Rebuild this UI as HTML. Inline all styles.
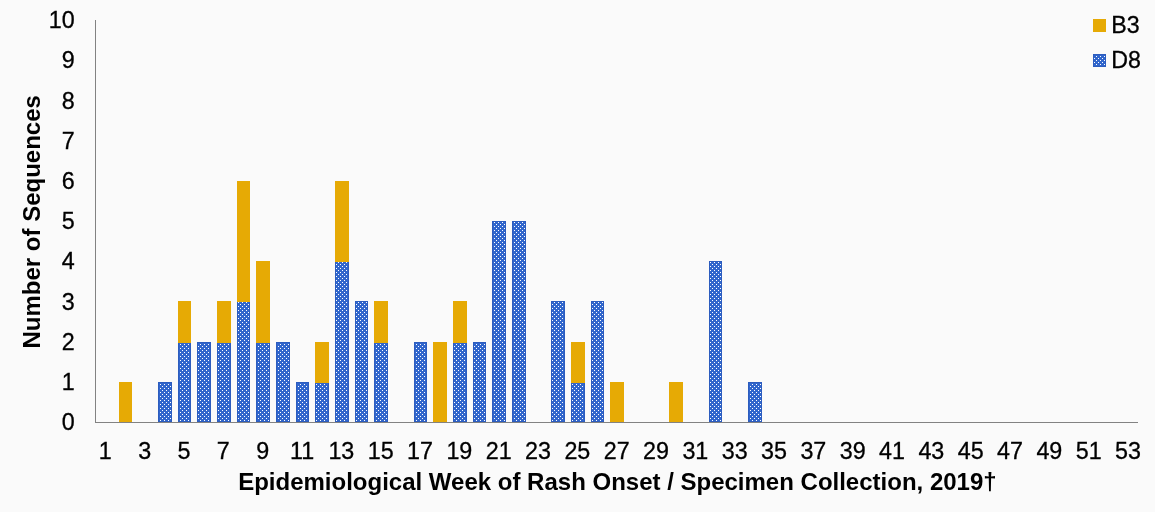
<!DOCTYPE html>
<html><head><meta charset="utf-8"><title>Chart</title>
<style>html,body{margin:0;padding:0;background:#fafafa;overflow:hidden}svg{display:block}text{font-family:"Liberation Sans",Arial,sans-serif;fill:#000}.r{stroke:#000;stroke-width:0.3px}</style></head><body>
<svg width="1155" height="512" viewBox="0 0 1155 512">
<defs><pattern id="dots" x="0" y="0" width="4" height="4" patternUnits="userSpaceOnUse"><rect width="4" height="4" fill="#3166cc"/><rect x="0" y="0" width="1" height="1" fill="#fff"/><rect x="2" y="2" width="1" height="1" fill="#fff"/></pattern></defs>
<rect width="1155" height="512" fill="#fafafa"/>
<rect x="119" y="382" width="13" height="40" fill="#e6aa05"/>
<rect x="158" y="382" width="14" height="40" fill="url(#dots)"/>
<rect x="158.5" y="382.5" width="13" height="39" fill="none" stroke="#2c5cbe" stroke-width="1"/>
<rect x="178" y="342" width="13" height="80" fill="url(#dots)"/>
<rect x="178.5" y="342.5" width="12" height="79" fill="none" stroke="#2c5cbe" stroke-width="1"/>
<rect x="178" y="301" width="13" height="42" fill="#e6aa05"/>
<rect x="197" y="342" width="14" height="80" fill="url(#dots)"/>
<rect x="197.5" y="342.5" width="13" height="79" fill="none" stroke="#2c5cbe" stroke-width="1"/>
<rect x="217" y="342" width="14" height="80" fill="url(#dots)"/>
<rect x="217.5" y="342.5" width="13" height="79" fill="none" stroke="#2c5cbe" stroke-width="1"/>
<rect x="217" y="301" width="14" height="42" fill="#e6aa05"/>
<rect x="237" y="301" width="13" height="121" fill="url(#dots)"/>
<rect x="237.5" y="301.5" width="12" height="120" fill="none" stroke="#2c5cbe" stroke-width="1"/>
<rect x="237" y="181" width="13" height="121" fill="#e6aa05"/>
<rect x="256" y="342" width="14" height="80" fill="url(#dots)"/>
<rect x="256.5" y="342.5" width="13" height="79" fill="none" stroke="#2c5cbe" stroke-width="1"/>
<rect x="256" y="261" width="14" height="82" fill="#e6aa05"/>
<rect x="276" y="342" width="14" height="80" fill="url(#dots)"/>
<rect x="276.5" y="342.5" width="13" height="79" fill="none" stroke="#2c5cbe" stroke-width="1"/>
<rect x="296" y="382" width="13" height="40" fill="url(#dots)"/>
<rect x="296.5" y="382.5" width="12" height="39" fill="none" stroke="#2c5cbe" stroke-width="1"/>
<rect x="315" y="382" width="14" height="40" fill="url(#dots)"/>
<rect x="315.5" y="382.5" width="13" height="39" fill="none" stroke="#2c5cbe" stroke-width="1"/>
<rect x="315" y="342" width="14" height="41" fill="#e6aa05"/>
<rect x="335" y="261" width="14" height="161" fill="url(#dots)"/>
<rect x="335.5" y="261.5" width="13" height="160" fill="none" stroke="#2c5cbe" stroke-width="1"/>
<rect x="335" y="181" width="14" height="81" fill="#e6aa05"/>
<rect x="355" y="301" width="13" height="121" fill="url(#dots)"/>
<rect x="355.5" y="301.5" width="12" height="120" fill="none" stroke="#2c5cbe" stroke-width="1"/>
<rect x="374" y="342" width="14" height="80" fill="url(#dots)"/>
<rect x="374.5" y="342.5" width="13" height="79" fill="none" stroke="#2c5cbe" stroke-width="1"/>
<rect x="374" y="301" width="14" height="42" fill="#e6aa05"/>
<rect x="414" y="342" width="13" height="80" fill="url(#dots)"/>
<rect x="414.5" y="342.5" width="12" height="79" fill="none" stroke="#2c5cbe" stroke-width="1"/>
<rect x="433" y="342" width="14" height="80" fill="#e6aa05"/>
<rect x="453" y="342" width="14" height="80" fill="url(#dots)"/>
<rect x="453.5" y="342.5" width="13" height="79" fill="none" stroke="#2c5cbe" stroke-width="1"/>
<rect x="453" y="301" width="14" height="42" fill="#e6aa05"/>
<rect x="473" y="342" width="13" height="80" fill="url(#dots)"/>
<rect x="473.5" y="342.5" width="12" height="79" fill="none" stroke="#2c5cbe" stroke-width="1"/>
<rect x="492" y="221" width="14" height="201" fill="url(#dots)"/>
<rect x="492.5" y="221.5" width="13" height="200" fill="none" stroke="#2c5cbe" stroke-width="1"/>
<rect x="512" y="221" width="14" height="201" fill="url(#dots)"/>
<rect x="512.5" y="221.5" width="13" height="200" fill="none" stroke="#2c5cbe" stroke-width="1"/>
<rect x="551" y="301" width="14" height="121" fill="url(#dots)"/>
<rect x="551.5" y="301.5" width="13" height="120" fill="none" stroke="#2c5cbe" stroke-width="1"/>
<rect x="571" y="382" width="14" height="40" fill="url(#dots)"/>
<rect x="571.5" y="382.5" width="13" height="39" fill="none" stroke="#2c5cbe" stroke-width="1"/>
<rect x="571" y="342" width="14" height="41" fill="#e6aa05"/>
<rect x="591" y="301" width="13" height="121" fill="url(#dots)"/>
<rect x="591.5" y="301.5" width="12" height="120" fill="none" stroke="#2c5cbe" stroke-width="1"/>
<rect x="610" y="382" width="14" height="40" fill="#e6aa05"/>
<rect x="669" y="382" width="14" height="40" fill="#e6aa05"/>
<rect x="709" y="261" width="13" height="161" fill="url(#dots)"/>
<rect x="709.5" y="261.5" width="12" height="160" fill="none" stroke="#2c5cbe" stroke-width="1"/>
<rect x="748" y="382" width="14" height="40" fill="url(#dots)"/>
<rect x="748.5" y="382.5" width="13" height="39" fill="none" stroke="#2c5cbe" stroke-width="1"/>
<rect x="95" y="20" width="1" height="403" fill="#828282"/>
<rect x="95" y="422" width="1043" height="1" fill="#828282"/>
<text x="74.6" y="430.20" font-size="23.3" text-anchor="end" class="r">0</text>
<text x="74.6" y="390.00" font-size="23.3" text-anchor="end" class="r">1</text>
<text x="74.6" y="349.80" font-size="23.3" text-anchor="end" class="r">2</text>
<text x="74.6" y="309.60" font-size="23.3" text-anchor="end" class="r">3</text>
<text x="74.6" y="269.40" font-size="23.3" text-anchor="end" class="r">4</text>
<text x="74.6" y="229.20" font-size="23.3" text-anchor="end" class="r">5</text>
<text x="74.6" y="189.00" font-size="23.3" text-anchor="end" class="r">6</text>
<text x="74.6" y="148.80" font-size="23.3" text-anchor="end" class="r">7</text>
<text x="74.6" y="108.60" font-size="23.3" text-anchor="end" class="r">8</text>
<text x="74.6" y="68.40" font-size="23.3" text-anchor="end" class="r">9</text>
<text x="74.6" y="28.20" font-size="23.3" text-anchor="end" class="r">10</text>
<text x="105.33" y="458.6" font-size="23.3" text-anchor="middle" class="r">1</text>
<text x="144.67" y="458.6" font-size="23.3" text-anchor="middle" class="r">3</text>
<text x="184.00" y="458.6" font-size="23.3" text-anchor="middle" class="r">5</text>
<text x="223.34" y="458.6" font-size="23.3" text-anchor="middle" class="r">7</text>
<text x="262.67" y="458.6" font-size="23.3" text-anchor="middle" class="r">9</text>
<text x="302.00" y="458.6" font-size="23.3" text-anchor="middle" class="r">11</text>
<text x="341.34" y="458.6" font-size="23.3" text-anchor="middle" class="r">13</text>
<text x="380.67" y="458.6" font-size="23.3" text-anchor="middle" class="r">15</text>
<text x="420.01" y="458.6" font-size="23.3" text-anchor="middle" class="r">17</text>
<text x="459.34" y="458.6" font-size="23.3" text-anchor="middle" class="r">19</text>
<text x="498.67" y="458.6" font-size="23.3" text-anchor="middle" class="r">21</text>
<text x="538.01" y="458.6" font-size="23.3" text-anchor="middle" class="r">23</text>
<text x="577.34" y="458.6" font-size="23.3" text-anchor="middle" class="r">25</text>
<text x="616.68" y="458.6" font-size="23.3" text-anchor="middle" class="r">27</text>
<text x="656.01" y="458.6" font-size="23.3" text-anchor="middle" class="r">29</text>
<text x="695.34" y="458.6" font-size="23.3" text-anchor="middle" class="r">31</text>
<text x="734.68" y="458.6" font-size="23.3" text-anchor="middle" class="r">33</text>
<text x="774.01" y="458.6" font-size="23.3" text-anchor="middle" class="r">35</text>
<text x="813.35" y="458.6" font-size="23.3" text-anchor="middle" class="r">37</text>
<text x="852.68" y="458.6" font-size="23.3" text-anchor="middle" class="r">39</text>
<text x="892.01" y="458.6" font-size="23.3" text-anchor="middle" class="r">41</text>
<text x="931.35" y="458.6" font-size="23.3" text-anchor="middle" class="r">43</text>
<text x="970.68" y="458.6" font-size="23.3" text-anchor="middle" class="r">45</text>
<text x="1010.02" y="458.6" font-size="23.3" text-anchor="middle" class="r">47</text>
<text x="1049.35" y="458.6" font-size="23.3" text-anchor="middle" class="r">49</text>
<text x="1088.68" y="458.6" font-size="23.3" text-anchor="middle" class="r">51</text>
<text x="1128.02" y="458.6" font-size="23.3" text-anchor="middle" class="r">53</text>
<text x="617.4" y="490.4" font-size="24" font-weight="bold" text-anchor="middle">Epidemiological Week of Rash Onset / Specimen Collection, 2019†</text>
<text transform="translate(40,221.8) rotate(-90)" font-size="24" font-weight="bold" text-anchor="middle">Number of Sequences</text>
<rect x="1093" y="19" width="13" height="13" fill="#e6aa05"/>
<rect x="1093" y="54" width="13" height="13" fill="url(#dots)"/>
<rect x="1093.5" y="54.5" width="12" height="12" fill="none" stroke="#2c5cbe" stroke-width="1"/>
<text x="1111.3" y="32.9" font-size="23.2" class="r">B3</text>
<text x="1111.3" y="67.9" font-size="23.2" class="r">D8</text>
</svg></body></html>
